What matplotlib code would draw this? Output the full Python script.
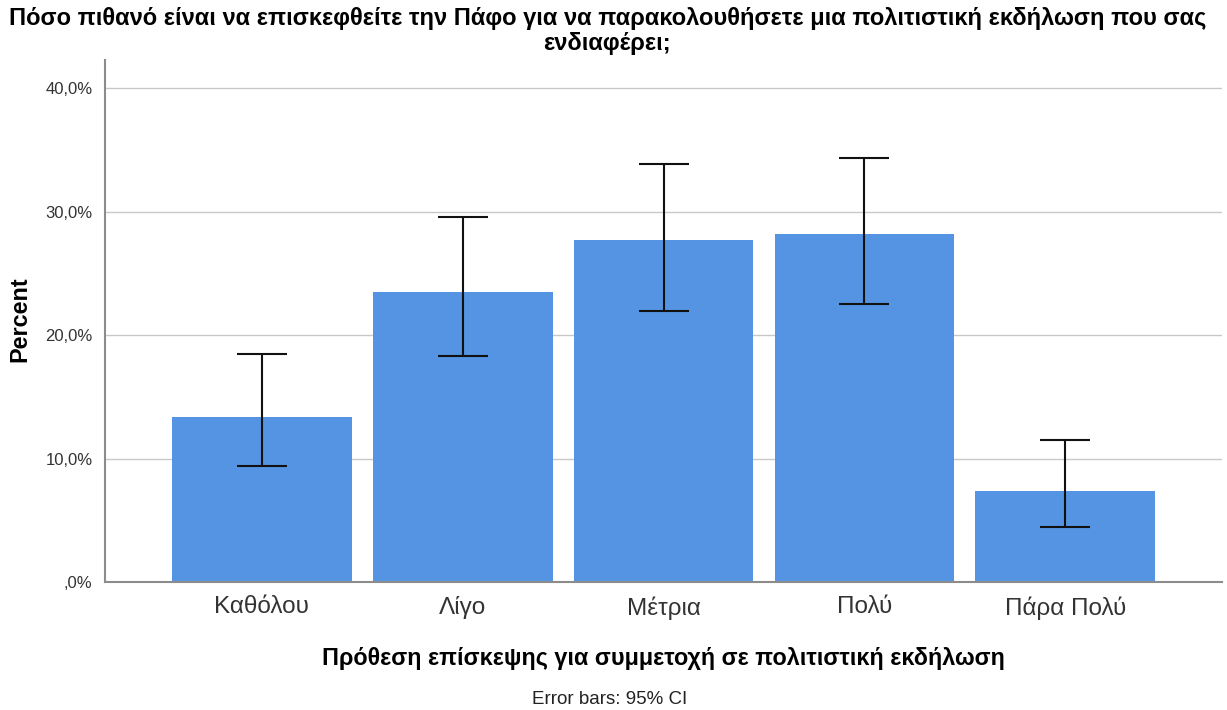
import matplotlib

matplotlib.use("Agg")

import matplotlib.pyplot as plt
import numpy as np
from matplotlib.ticker import FuncFormatter

categories = ["Καθόλου", "Λίγο", "Μέτρια", "Πολύ", "Πάρα Πολύ"]
percent = [13.4, 23.5, 27.7, 28.2, 7.4]
ci_low = [9.4, 18.3, 22.0, 22.5, 4.5]
ci_high = [18.5, 29.6, 33.9, 34.4, 11.5]
y_ticks = [0, 10, 20, 30, 40]

plt.rcParams["font.family"] = ["Liberation Sans", "DejaVu Sans"]


def pct_label(value, _pos):
    text = f"{value:.1f}".replace(".", ",")
    if text.startswith("0,"):
        text = text[1:]
    return text + "%"


fig = plt.figure(figsize=(12.27, 7.10), dpi=100)
ax = fig.add_axes([0.0856, 0.180, 0.9104, 0.7355])

x = np.arange(len(categories))
values = np.array(percent)
yerr = np.vstack([values - np.array(ci_low), np.array(ci_high) - values])

ax.bar(x, values, width=0.895, color="#5594e2", zorder=2)
ax.errorbar(x, values, yerr=yerr, fmt="none", ecolor="#111111", elinewidth=1.5,
            capsize=18, capthick=1.5, zorder=3)

ax.set_xlim(-0.78, 4.78)
ax.set_ylim(0, 42.3)
ax.set_yticks(y_ticks)
ax.yaxis.set_major_formatter(FuncFormatter(pct_label))
ax.set_xticks(x, categories)
ax.tick_params(axis="both", length=0)
ax.tick_params(axis="y", labelsize=12, colors="#333333", pad=9)
ax.tick_params(axis="x", labelsize=17.5, colors="#333333", pad=10)
ax.grid(axis="y", color="#c8c8c8", linewidth=1.0, zorder=0)

for side in ["top", "right"]:
    ax.spines[side].set_visible(False)
for side in ["left", "bottom"]:
    ax.spines[side].set_color("#8c8c8c")
    ax.spines[side].set_linewidth(1.5)

fig.text(0.495, 0.99,
         "Πόσο πιθανό είναι να επισκεφθείτε την Πάφο για να παρακολουθήσετε μια πολιτιστική εκδήλωση που σας\nενδιαφέρει;",
         ha="center", va="top", fontsize=17, fontweight="bold", linespacing=1.12)
ax.set_xlabel("Πρόθεση επίσκεψης για συμμετοχή σε πολιτιστική εκδήλωση",
              fontsize=16.8, fontweight="bold", labelpad=20)
fig.text(0.016, 0.55, "Percent", rotation=90, ha="center", va="center",
         fontsize=16.8, fontweight="bold")
fig.text(0.497, 0.015, "Error bars: 95% CI", ha="center", va="center",
         fontsize=13.5, color="#222222")

fig.savefig("out.png", dpi=100)
plt.close(fig)
